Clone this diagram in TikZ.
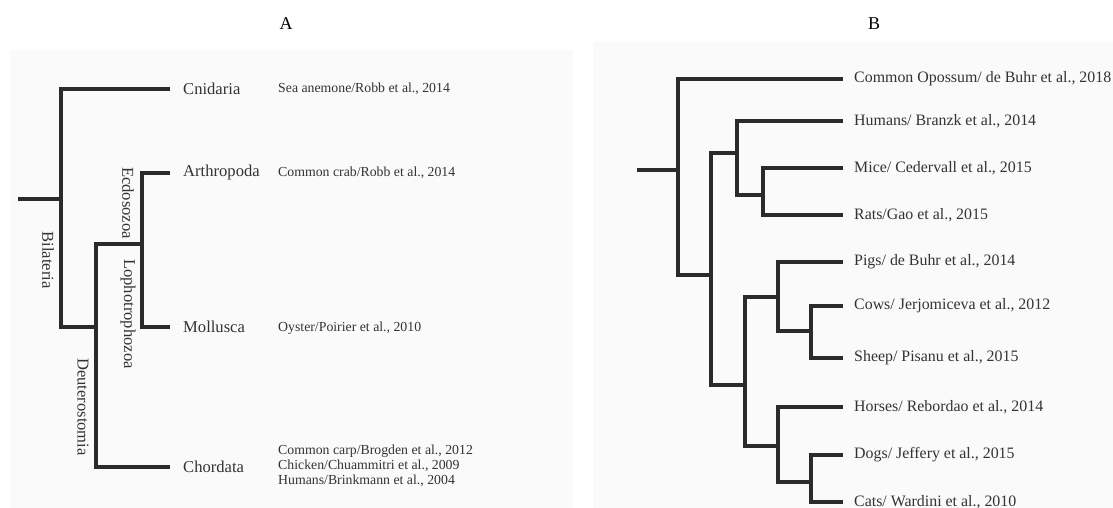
\documentclass[tikz,border=0pt]{standalone}
\usepackage{fontspec}
\setmainfont{Liberation Serif}
\definecolor{bgpanel}{HTML}{FAFAFA}
\definecolor{branch}{HTML}{2B2B2B}
\definecolor{txt}{HTML}{333333}
\tikzset{
  br/.style={draw=branch, line width=3.9pt, line join=miter},
  leafA/.style={anchor=west, inner xsep=13pt, inner ysep=0pt, text=txt, font=\fontsize{16.6}{19}\selectfont},
  leafB/.style={anchor=west, inner xsep=11pt, inner ysep=0pt, text=txt, font=\fontsize{15.9}{18}\selectfont},
  refA/.style={anchor=west, inner sep=0pt, text=txt, font=\fontsize{13.8}{15}\selectfont, align=left},
  clade/.style={rotate=-90, inner sep=0pt, text=txt, font=\fontsize{16.6}{19}\selectfont},
  paneltitle/.style={inner sep=0pt, font=\fontsize{18}{20}\selectfont}
}
\begin{document}
\begin{tikzpicture}[x=1pt,y=-1pt]
\useasboundingbox (0,0) rectangle (1113,508);
\fill[white] (0,0) rectangle (1113,508);
\fill[bgpanel] (10,50) rectangle (573,508);
\fill[bgpanel] (593,42) rectangle (1113,508);
\node[paneltitle] (tA) at (286,24) {A};
\node[paneltitle] (tB) at (874,24) {B};

% ---------- Tree A ----------
\coordinate (rA) at (18,199);
\coordinate (a1) at (61,199);
\coordinate (a2) at (96,327);
\coordinate (a3) at (142,244);
\node[leafA] (cni) at (170,89) {Cnidaria};
\node[leafA] (art) at (170,173) {Arthropoda};
\node[leafA] (mol) at (170,327) {Mollusca};
\node[leafA] (cho) at (170,467) {Chordata};
\draw[br] (rA) -- (a1);
\draw[br] (cni.west) -| (a1) |- (a2);
\draw[br] (a3) -| (a2) |- (cho.west);
\draw[br] (art.west) -| (a3) |- (mol.west);

\node[clade] (bil) at (48,260) {Bilateria};
\node[clade] (ecd) at (128,203) {Ecdosozoa};
\node[clade] (lop) at (128,314) {Lophotrophozoa};
\node[clade] (deu) at (83,407) {Deuterostomia};

\node[refA] (r1) at (278,89) {Sea anemone/Robb et al., 2014};
\node[refA] (r2) at (278,173) {Common crab/Robb et al., 2014};
\node[refA] (r3) at (278,328) {Oyster/Poirier et al., 2010};
\node[refA] (r4) at (278,466) {Common carp/Brogden et al., 2012\\Chicken/Chuammitri et al., 2009\\Humans/Brinkmann et al., 2004};

% ---------- Tree B ----------
\coordinate (rB) at (637,170);
\coordinate (b1) at (678,170);
\coordinate (b2) at (711,275);
\coordinate (b3) at (737,153);
\coordinate (b4) at (745,385);
\coordinate (b5) at (763,195);
\coordinate (b6) at (778,297);
\coordinate (b7) at (778,446);
\coordinate (b8) at (811,331);
\coordinate (b9) at (811,482);
\node[leafB] (opo) at (843,79) {Common Opossum/ de Buhr et al., 2018};
\node[leafB] (hum) at (843,121) {Humans/ Branzk et al., 2014};
\node[leafB] (mic) at (843,168) {Mice/ Cedervall et al., 2015};
\node[leafB] (rat) at (843,215) {Rats/Gao et al., 2015};
\node[leafB] (pig) at (843,262) {Pigs/ de Buhr et al., 2014};
\node[leafB] (cow) at (843,306) {Cows/ Jerjomiceva et al., 2012};
\node[leafB] (shp) at (843,358) {Sheep/ Pisanu et al., 2015};
\node[leafB] (hor) at (843,407) {Horses/ Rebordao et al., 2014};
\node[leafB] (dog) at (843,455) {Dogs/ Jeffery et al., 2015};
\node[leafB] (cat) at (843,502) {Cats/ Wardini et al., 2010};
\draw[br] (rB) -- (b1);
\draw[br] (opo.west) -| (b1) |- (b2);
\draw[br] (b3) -| (b2) |- (b4);
\draw[br] (hum.west) -| (b3) |- (b5);
\draw[br] (mic.west) -| (b5) |- (rat.west);
\draw[br] (b6) -| (b4) |- (b7);
\draw[br] (pig.west) -| (b6) |- (b8);
\draw[br] (cow.west) -| (b8) |- (shp.west);
\draw[br] (hor.west) -| (b7) |- (b9);
\draw[br] (dog.west) -| (b9) |- (cat.west);
\end{tikzpicture}
\end{document}
